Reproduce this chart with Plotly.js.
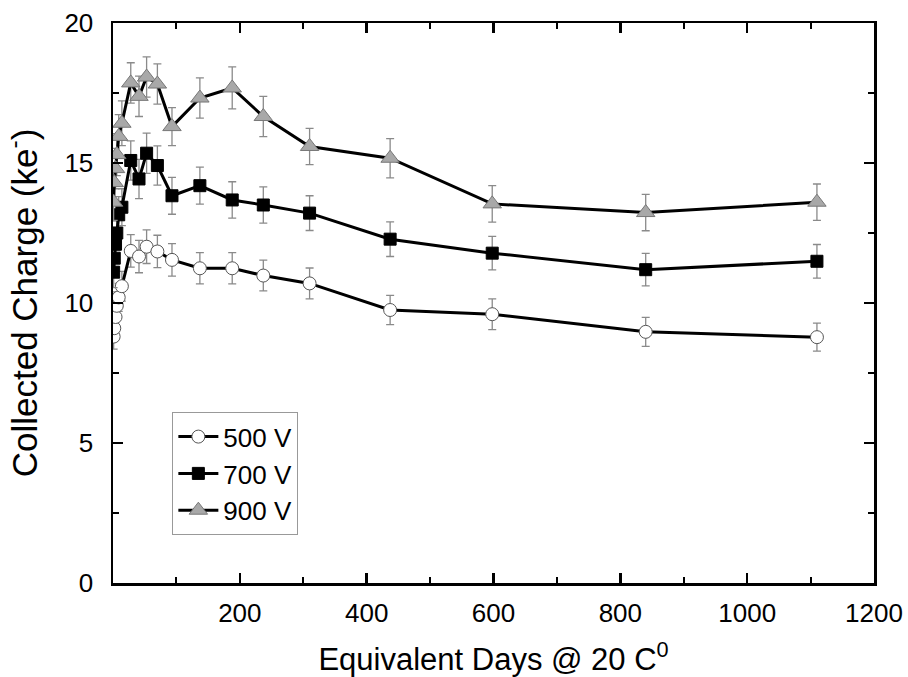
<!DOCTYPE html>
<html>
<head>
<meta charset="utf-8">
<script src="https://cdn.plot.ly/plotly-3.0.1.min.js"></script>
<style>html,body{margin:0;padding:0;background:#fff;}#chart{width:908px;height:677px;}</style>
</head>
<body>
<div id="chart"></div>
<script>
// Equivalent days @ 20 C
const days = [1, 2, 4, 6, 9, 14, 28, 41, 53, 70, 93, 137, 188, 237, 310, 437, 598, 840, 1110];
// Collected charge (ke-)
const q500 = [8.8, 9.1, 9.5, 9.9, 10.2, 10.6, 11.86, 11.66, 12.01, 11.84, 11.54, 11.24, 11.24, 10.98, 10.70, 9.75, 9.60, 8.97, 8.78];
const q700 = [11.1, 11.6, 12.1, 12.5, 13.15, 13.42, 15.09, 14.43, 15.35, 14.91, 13.83, 14.19, 13.68, 13.50, 13.21, 12.28, 11.78, 11.19, 11.49];
const q900 = [13.6, 14.3, 14.8, 15.3, 15.95, 16.42, 17.86, 17.38, 18.07, 17.82, 16.30, 17.32, 17.68, 16.66, 15.59, 15.17, 13.54, 13.23, 13.60];
// error bars
const e500 = [0.45, 0.45, 0.48, 0.5, 0.5, 0.53, 0.58, 0.58, 0.6, 0.58, 0.58, 0.56, 0.56, 0.55, 0.55, 0.52, 0.55, 0.52, 0.5];
const e700 = [0.55, 0.58, 0.6, 0.62, 0.65, 0.66, 0.7, 0.7, 0.72, 0.7, 0.66, 0.66, 0.65, 0.65, 0.62, 0.62, 0.6, 0.58, 0.6];
const e900 = [0.65, 0.7, 0.72, 0.75, 0.78, 0.8, 0.72, 0.72, 0.72, 0.72, 0.68, 0.72, 0.75, 0.72, 0.65, 0.7, 0.65, 0.65, 0.65];
const seriesNames = ["500 V", "700 V", "900 V"];
const xTicks = [200, 400, 600, 800, 1000, 1200];
const yTicks = [0, 5, 10, 15, 20];

const FONT = "Liberation Sans, Arial, sans-serif";

function trace(y, err, name, marker) {
  return {
    x: days, y: y, name: name, type: "scatter", mode: "lines+markers",
    line: {color: "#000", width: 3},
    marker: marker,
    error_y: {type: "data", array: err, visible: true, color: "#8a8a8a", thickness: 1.3, width: 4}
  };
}

const data = [
  trace(q500, e500, seriesNames[0], {symbol: "circle", size: 13, color: "#fff", line: {color: "#555", width: 1}}),
  trace(q700, e700, seriesNames[1], {symbol: "square", size: 12, color: "#000", line: {color: "#000", width: 1}}),
  trace(q900, e900, seriesNames[2], {symbol: "triangle-up", size: 16, color: "#a8a8a8", line: {color: "#777", width: 1}})
];

const axisCommon = {
  showline: true, linecolor: "#000", linewidth: 2.5, mirror: "ticks",
  ticks: "inside", ticklen: 10, tickwidth: 2.5, tickcolor: "#000",
  showgrid: false, zeroline: false, automargin: false,
  tickfont: {family: FONT, size: 26, color: "#000"}
};

const layout = {
  width: 908, height: 677,
  margin: {l: 113, r: 34, t: 23, b: 94},
  paper_bgcolor: "#fff", plot_bgcolor: "#fff",
  showlegend: true,
  font: {family: FONT, color: "#000"},
  xaxis: Object.assign({}, axisCommon, {
    range: [0, 1200], tickmode: "array", tickvals: xTicks, ticktext: xTicks.map(String),
    ticklabelstandoff: 5,
    minor: {dtick: 100, tick0: 0, ticks: "inside", ticklen: 6, tickwidth: 2, tickcolor: "#000"},
    title: {text: "Equivalent Days @ 20 C<sup>0</sup>", font: {family: FONT, size: 31, color: "#000"}}
  }),
  yaxis: Object.assign({}, axisCommon, {
    range: [0, 20], tickmode: "array", tickvals: yTicks, ticktext: yTicks.map(String),
    ticklabelstandoff: 12,
    minor: {dtick: 2.5, tick0: 0, ticks: "inside", ticklen: 6, tickwidth: 2, tickcolor: "#000"},
    title: {text: "Collected Charge (ke<sup>-</sup>)", font: {family: FONT, size: 35, color: "#000"}}
  }),
  legend: {
    x: 0.078, y: 0.305, xanchor: "left", yanchor: "top",
    bgcolor: "#fff", bordercolor: "#999", borderwidth: 1,
    font: {family: FONT, size: 26, color: "#000"},
    itemwidth: 40, tracegroupgap: 0
  }
};

Plotly.newPlot("chart", data, layout, {displayModeBar: false, staticPlot: true});
</script>
</body>
</html>
